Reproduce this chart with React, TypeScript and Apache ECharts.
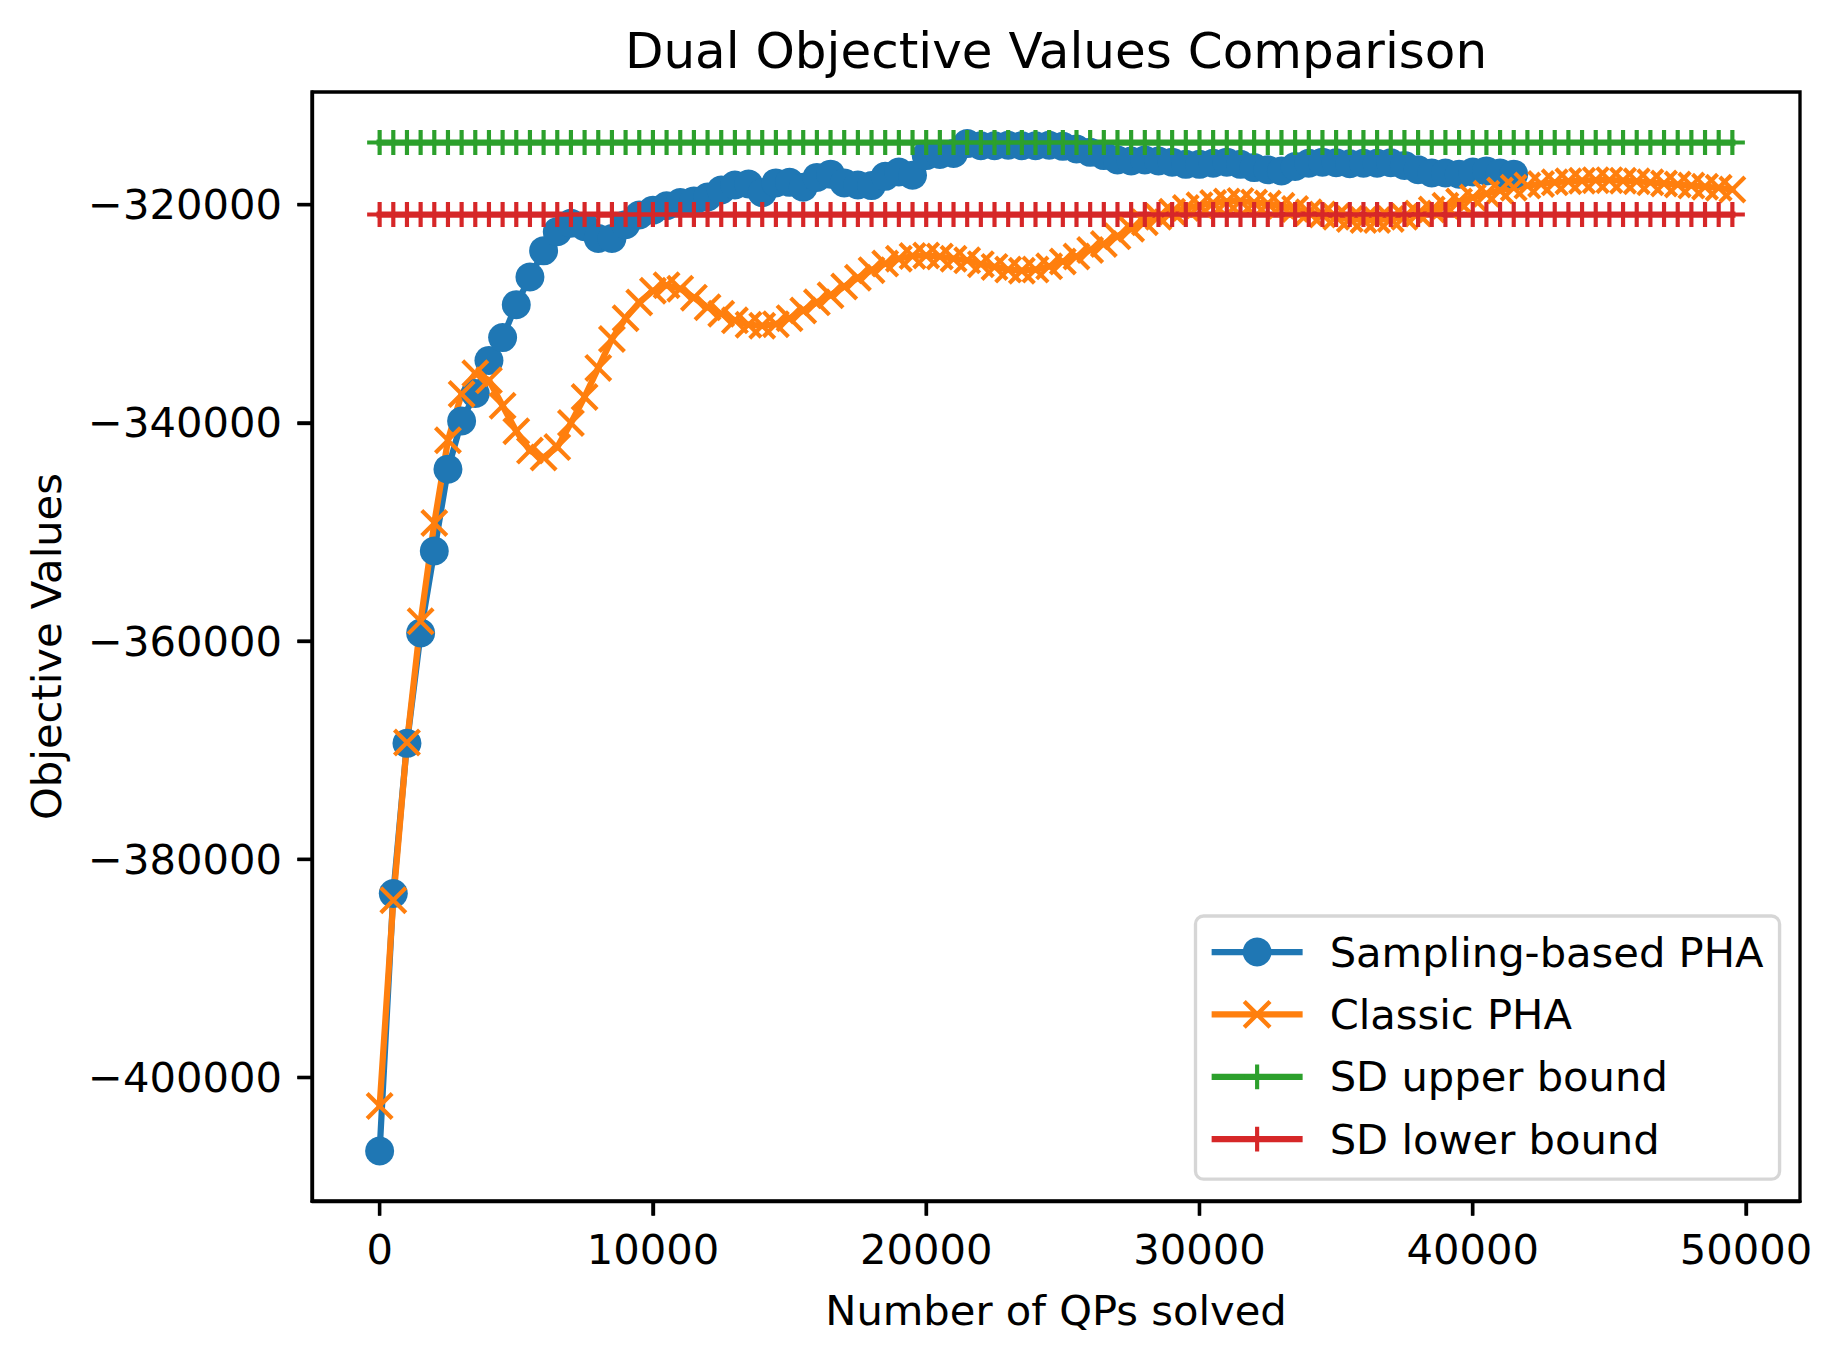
import React, { useEffect, useRef } from "react";
import * as echarts from "echarts";

const QP_STEP = 500;

const samplingPHA = [
  -406740, -383130, -369370, -359260, -351740, -344240, -339830, -337300, -334270, -332180,
  -329160, -326630, -324230, -322470, -321700, -322020, -323100, -323100, -321830, -320940,
  -320500, -320100, -319800, -319650, -319300, -318650, -318200, -318100, -318900, -318000,
  -317950, -318400, -317500, -317200, -318000, -318200, -318250, -317400, -317000, -317300,
  -315500, -315400, -315300, -314400, -314600, -314600, -314550, -314600, -314600, -314550,
  -314650, -314900, -315200, -315500, -315900, -316000, -315900, -316000, -316100, -316300,
  -316300, -316200, -316100, -316300, -316600, -316800, -316900, -316500, -316200, -316100,
  -316150, -316250, -316200, -316200, -316150, -316400, -316800, -317100, -317100, -317200,
  -317000, -316900, -317100, -317200,
];

const classicPHA = [
  -402610, -383760, -369300, -358190, -349170, -341590, -337350, -335460, -336100, -338430,
  -340770, -342540, -343170, -342220, -340010, -337620, -334960, -332310, -330410, -328960,
  -327890, -327390, -327700, -328520, -329400, -330000, -330600, -331000, -331100, -330950,
  -330400, -329700, -328950, -328300, -327500, -326700, -326000, -325400, -324950, -324700,
  -324650, -324750, -324950, -325100, -325450, -325700, -325950, -326050, -325950, -325650,
  -325200, -324750, -324150, -323600, -322900, -322200, -321600, -321100, -320650, -320300,
  -320050, -319850, -319700, -319650, -319800, -319900, -320100, -320400, -320700, -320900,
  -321100, -321300, -321400, -321400, -321300, -321100, -320800, -320450, -320100, -319700,
  -319350, -319000, -318700, -318450, -318250, -318100, -317950, -317850, -317800, -317750,
  -317750, -317800, -317850, -317950, -318050, -318150, -318250, -318350, -318450, -318600,
];

const SD_UPPER = -314300;
const SD_LOWER = -320900;
const BOUND_POINTS = 100;

const X_MIN = -2475;
const X_MAX = 51975;
const Y_MIN = -411320;
const Y_MAX = -309670;

const xTicks = [0, 10000, 20000, 30000, 40000, 50000];
const yTicks = [-400000, -380000, -360000, -340000, -320000];

const seriesNames = ["Sampling-based PHA", "Classic PHA", "SD upper bound", "SD lower bound"];
const colors = ["#1f77b4", "#ff7f0e", "#2ca02c", "#d62728"];

const X_PATH =
  "path://M50 60.54L89.46 100L100 89.46L60.54 50L100 10.54L89.46 0L50 39.46L10.54 0L0 10.54L39.46 50L0 89.46L10.54 100Z";
const PLUS_PATH =
  "path://M-8 -8L-8 -8M108 108L108 108M41.67 0L58.33 0L58.33 41.67L100 41.67L100 58.33L58.33 58.33L58.33 100L41.67 100L41.67 58.33L0 58.33L0 41.67L41.67 41.67Z";

const FONT = '"DejaVu Sans", sans-serif';
const TICK_LEN = 14.6;
const TICK_W = 3.33;
const minus = (v: number) => String(v).replace("-", "\u2212");

export default function App() {
  const ref = useRef<HTMLDivElement>(null);
  useEffect(() => {
    if (!ref.current) return;
    const chart = echarts.init(ref.current, null, { renderer: "svg" });
    const toPairs = (vals: number[]) => vals.map((v, i) => [i * QP_STEP, v]);
    const bound = (v: number) => Array.from({ length: BOUND_POINTS }, (_, i) => [i * QP_STEP, v]);

    const mkSeries = (name: string, data: number[][], symbol: string, size: number, color: string) => ({
      type: "line",
      name,
      data,
      symbol,
      symbolSize: size,
      showAllSymbol: true,
      silent: true,
      emphasis: { disabled: true },
      itemStyle: { color, borderWidth: 0 },
      lineStyle: { width: 6.25, cap: "square", join: "round", color },
    });

    const mkAxis = (min: number, max: number, ticks: number[], margin: number, extraLabel: object) => ({
      type: "value",
      min,
      max,
      axisLine: { show: true, onZero: false, lineStyle: { color: "#000", width: TICK_W } },
      splitLine: { show: false },
      axisTick: {
        show: true,
        length: TICK_LEN,
        lineStyle: { width: TICK_W, color: "#000" },
        customValues: ticks,
      },
      axisLabel: {
        customValues: ticks,
        formatter: minus,
        fontSize: 41.67,
        color: "#000",
        margin,
        fontFamily: FONT,
        ...extraLabel,
      },
    });

    const tickSeries = (data: number[][], horizontal: boolean) => ({
      type: "custom",
      silent: true,
      clip: false,
      z: 10,
      data,
      renderItem: (_params: any, api: any) => {
        const p = api.coord([api.value(0), api.value(1)]);
        const shape = horizontal
          ? { x1: p[0] - TICK_LEN, y1: p[1], x2: p[0], y2: p[1] }
          : { x1: p[0], y1: p[1], x2: p[0], y2: p[1] + TICK_LEN };
        return { type: "line", shape, style: { stroke: "#000", lineWidth: TICK_W } };
      },
    });

    chart.setOption({
      animation: false,
      grid: {
        left: 312,
        right: 42,
        top: 92,
        bottom: 160,
        show: true,
        borderColor: "#000",
        borderWidth: TICK_W,
      },
      xAxis: mkAxis(X_MIN, X_MAX, xTicks, 27, { lineHeight: 42 }),
      yAxis: mkAxis(Y_MIN, Y_MAX, yTicks, 30, {}),
      legend: {
        orient: "vertical",
        left: 1195.5,
        top: 916,
        padding: [15, 16, 19, 13],
        itemGap: 20.4,
        itemWidth: 91,
        itemHeight: 36,
        backgroundColor: "rgba(255,255,255,0.8)",
        borderColor: "rgba(204,204,204,0.8)",
        borderWidth: 3.33,
        borderRadius: 8,
        lineStyle: { width: 6.25, cap: "butt" },
        textStyle: { fontSize: 41.67, lineHeight: 42, color: "#000", fontFamily: FONT, padding: [0, 0, 0, 22] },
        data: seriesNames,
        selectedMode: false,
      },
      graphic: [
        {
          type: "text",
          x: 1056,
          y: 51,
          silent: true,
          style: {
            text: "Dual Objective Values Comparison",
            fontSize: 50,
            fontFamily: FONT,
            fill: "#000",
            align: "center",
            verticalAlign: "middle",
            textAlign: "center",
            textVerticalAlign: "middle",
          },
        },
        {
          type: "text",
          x: 1056,
          y: 1310,
          silent: true,
          style: {
            text: "Number of QPs solved",
            fontSize: 41.67,
            fontFamily: FONT,
            fill: "#000",
            align: "center",
            verticalAlign: "middle",
            textAlign: "center",
            textVerticalAlign: "middle",
          },
        },
        {
          type: "text",
          x: 46,
          y: 646.5,
          rotation: Math.PI / 2,
          silent: true,
          style: {
            text: "Objective Values",
            fontSize: 41.67,
            fontFamily: FONT,
            fill: "#000",
            align: "center",
            verticalAlign: "middle",
            textAlign: "center",
            textVerticalAlign: "middle",
          },
        },
      ],
      series: [
        mkSeries(seriesNames[0], toPairs(samplingPHA), "circle", 29, colors[0]),
        mkSeries(seriesNames[1], toPairs(classicPHA), X_PATH, 28, colors[1]),
        mkSeries(seriesNames[2], bound(SD_UPPER), PLUS_PATH, 29, colors[2]),
        mkSeries(seriesNames[3], bound(SD_LOWER), PLUS_PATH, 29, colors[3]),
        tickSeries(xTicks.map((v) => [v, Y_MIN]), false),
        tickSeries(yTicks.map((v) => [X_MIN, v]), true),
      ],
    });
    return () => chart.dispose();
  }, []);

  return (
    <div
      ref={ref}
      style={{ position: "absolute", left: 0, top: 0, width: 1842, height: 1361, background: "#fff" }}
    />
  );
}
